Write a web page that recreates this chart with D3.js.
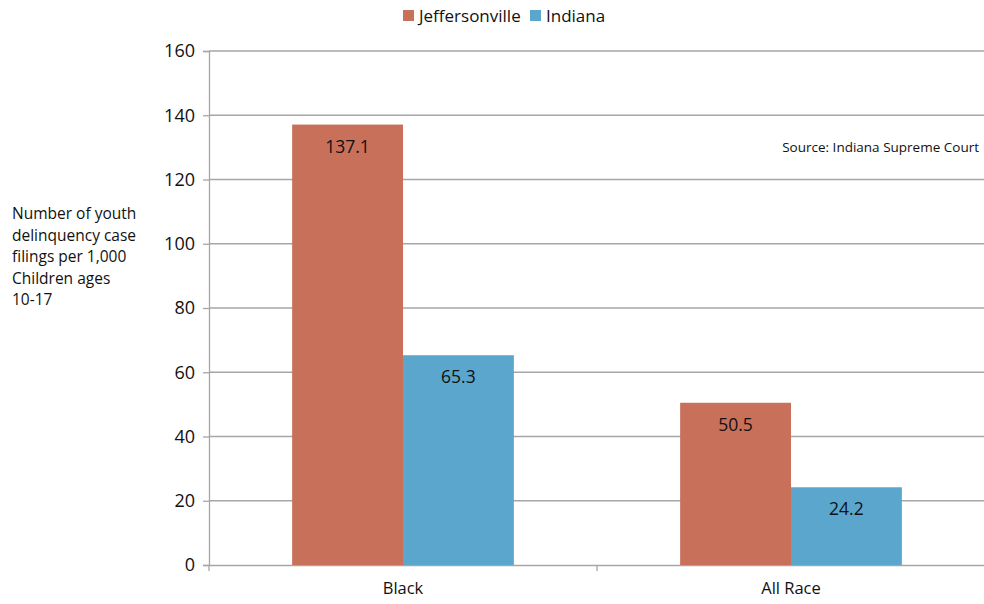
<!DOCTYPE html>
<html><head><meta charset="utf-8">
<script src="https://cdn.jsdelivr.net/npm/d3@7"></script>
<style>body{margin:0;background:#fff}svg{display:block}text{font-family:"Open Sans","Liberation Sans",sans-serif;fill:#111}</style>
</head><body><svg id="c" width="984" height="604"></svg>
<script>
const categories = ["Black", "All Race"];
const seriesNames = ["Jeffersonville", "Indiana"];
const jeffersonville = [137.1, 50.5];
const indiana = [65.3, 24.2];
const yTicks = [0, 20, 40, 60, 80, 100, 120, 140, 160];
const colors = ["#c8705a", "#5aa6cd"];
const yTitle = ["Number of youth", "delinquency case", "filings per 1,000", "Children ages", "10-17"];
const source = "Source: Indiana Supreme Court";

const svg = d3.select("#c");
const mLeft = 209, mRight = 985, mTop = 51, mBottom = 565;
const x = d3.scaleBand().domain(categories).range([mLeft, mRight]);
const xs = d3.scaleBand().domain(seriesNames).range([0, x.bandwidth()]).paddingOuter(0.75).paddingInner(0);
const y = d3.scaleLinear().domain([0, 160]).range([mBottom, mTop]);

// gridlines
svg.append("g").selectAll("line").data(yTicks.filter(d => d > 0)).join("line")
  .attr("x1", mLeft).attr("x2", mRight).attr("y1", d => y(d)).attr("y2", d => y(d))
  .attr("stroke", "#a6a6a6").attr("stroke-width", 1.3);

// y axis
const ya = svg.append("g").attr("transform", `translate(${mLeft},0)`)
  .call(d3.axisLeft(y).tickValues(yTicks).tickSize(6).tickPadding(8));
ya.select(".domain").attr("stroke", "#a6a6a6").attr("stroke-width", 1.3);
ya.selectAll(".tick line").attr("stroke", "#a6a6a6").attr("stroke-width", 1.3);
ya.selectAll(".tick text").attr("font-size", 18).attr("fill", "#111").attr("font-family", "'Open Sans',sans-serif");

// x axis
const xa = svg.append("g").attr("transform", `translate(0,${mBottom})`)
  .call(d3.axisBottom(x).tickSize(0).tickPadding(17));
xa.select(".domain").attr("stroke", "#a6a6a6").attr("stroke-width", 1.3);
xa.selectAll(".tick text").attr("font-size", 16.5).attr("fill", "#111").attr("font-family", "'Open Sans',sans-serif");
svg.append("g").selectAll("line").data([mLeft, mLeft + x.bandwidth(), mRight]).join("line")
  .attr("x1", d => d).attr("x2", d => d).attr("y1", mBottom).attr("y2", mBottom + 6)
  .attr("stroke", "#a6a6a6").attr("stroke-width", 1.3);

// bars
const data = categories.map((c, i) => ({c, vals: [jeffersonville[i], indiana[i]]}));
const g = svg.append("g").selectAll("g").data(data).join("g")
  .attr("transform", d => `translate(${x(d.c)},0)`);
g.selectAll("rect").data(d => d.vals.map((v, j) => ({s: seriesNames[j], v, j}))).join("rect")
  .attr("x", d => xs(d.s)).attr("width", xs.bandwidth())
  .attr("y", d => y(d.v)).attr("height", d => mBottom - y(d.v))
  .attr("fill", d => colors[d.j]);
g.selectAll("text.lbl").data(d => d.vals.map((v, j) => ({s: seriesNames[j], v, j}))).join("text")
  .attr("class", "lbl")
  .attr("x", d => xs(d.s) + xs.bandwidth() / 2).attr("y", d => y(d.v) + 28)
  .attr("text-anchor", "middle").attr("font-size", 17.5)
  .text(d => d.v.toFixed(1));

// legend
const leg = svg.append("g");
const legX = [403, 530];
seriesNames.forEach((s, i) => {
  leg.append("rect").attr("x", legX[i]).attr("y", 10).attr("width", 11).attr("height", 11).attr("fill", colors[i]);
  leg.append("text").attr("x", legX[i] + 16).attr("y", 22).attr("font-size", 17).text(s);
});

// y title
svg.append("text").attr("x", 12).attr("y", 219).attr("font-size", 15.5)
  .selectAll("tspan").data(yTitle).join("tspan")
  .attr("x", 12).attr("dy", (d, i) => i ? 21.5 : 0).text(d => d);

// source
svg.append("text").attr("x", 979).attr("y", 152).attr("text-anchor", "end").attr("font-size", 13.5).text(source);
</script></body></html>
